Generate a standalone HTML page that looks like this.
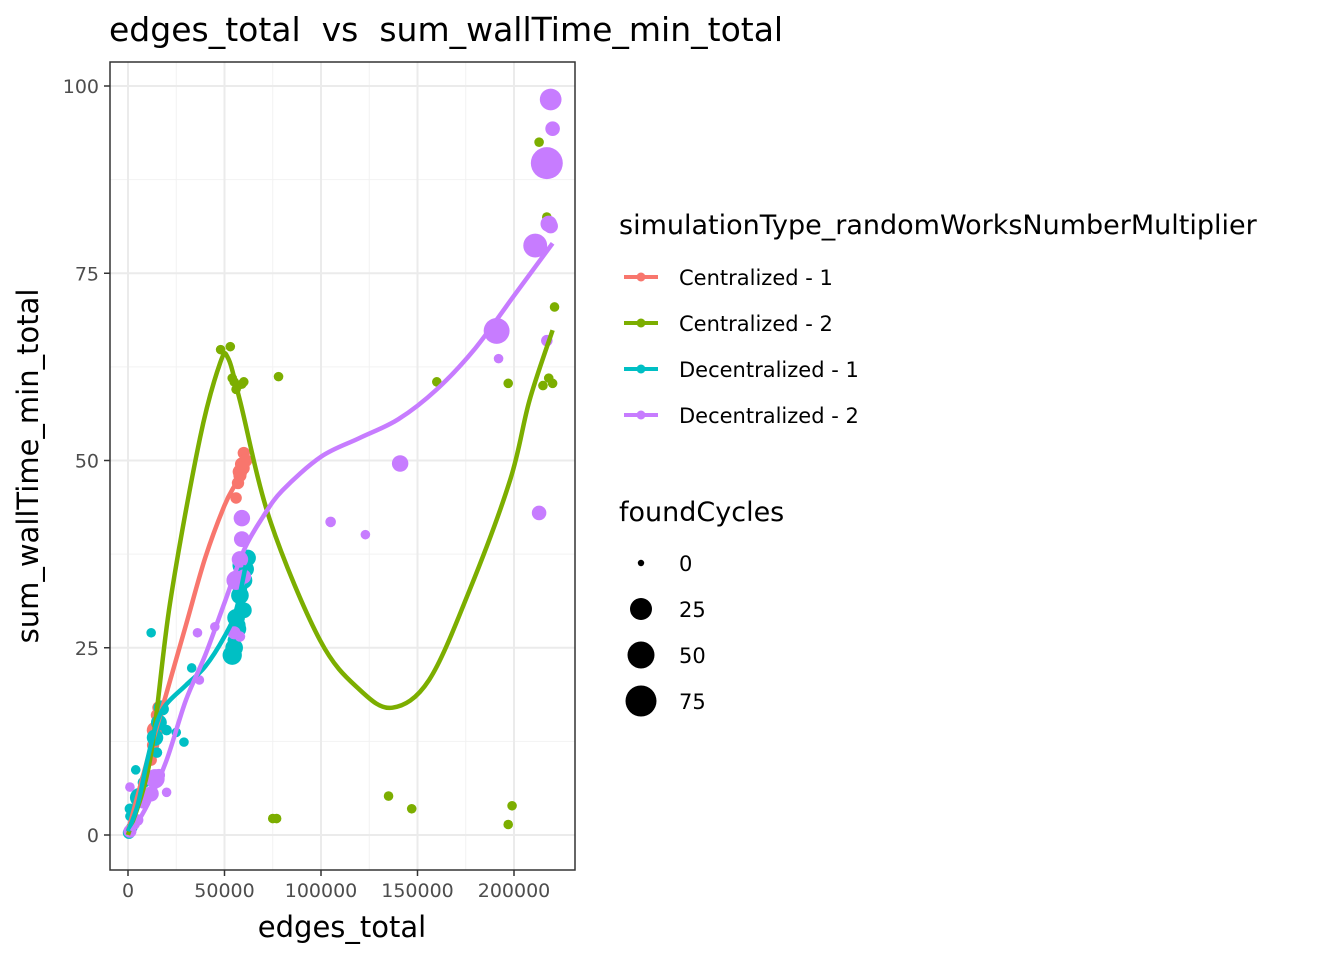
<!DOCTYPE html>
<html><head><meta charset="utf-8"><style>
body{margin:0;background:#fff;font-family:"Liberation Sans","DejaVu Sans",sans-serif}
</style></head><body>
<svg id="c" width="1344" height="960" xmlns="http://www.w3.org/2000/svg">
<text x="109" y="41" font-size="33" fill="#000" style="white-space:pre" xml:space="preserve" font-family="DejaVu Sans, Liberation Sans, sans-serif">edges_total  vs  sum_wallTime_min_total</text>
<rect x="110" y="62" width="465" height="808" fill="#fff"/>
<g id="grid"></g><g id="pts"></g><g id="lines"></g>
<rect x="110" y="62" width="465" height="808" fill="none" stroke="#333" stroke-width="1.5"/>
<g id="axes" font-family="DejaVu Sans, Liberation Sans, sans-serif" font-size="19" fill="#4d4d4d"></g>
<text x="342" y="937" text-anchor="middle" font-size="29" font-family="DejaVu Sans, Liberation Sans, sans-serif">edges_total</text>
<text transform="translate(38,466) rotate(-90)" text-anchor="middle" font-size="29" font-family="DejaVu Sans, Liberation Sans, sans-serif">sum_wallTime_min_total</text>
<g id="legend" font-family="DejaVu Sans, Liberation Sans, sans-serif"></g>
</svg>
<script>
const xTicks=[0,50000,100000,150000,200000];
const yTicks=[0,25,50,75,100];
const seriesNames=["Centralized - 1","Centralized - 2","Decentralized - 1","Decentralized - 2"];
const colors=["#F8766D","#7CAE00","#00BFC4","#C77CFF"];
const sizeBreaks=[0,25,50,75];
// smooth curves [x,y]
const smoothC1=[[0,0.5],[10000,10],[20000,19],[30000,28],[40000,37],[50000,44],[56000,47],[60000,49]];
const smoothC2=[[0,0],[11400,10],[21800,31],[37300,53],[47700,63],[51800,63.7],[58000,58],[73600,42],[99500,26],[120000,19.4],[137000,17],[156000,20.7],[177000,32.7],[198000,47.4],[208000,58],[220000,67.4]];
const smoothD1=[[0,0.5],[5000,4],[10000,10],[15000,15],[20000,17.5],[30000,20],[40000,22.5],[50000,26.5],[56000,30],[61000,36]];
const smoothD2=[[2000,0.5],[10000,4],[20000,10],[30000,18],[40000,24],[50000,31],[60000,38],[70000,42.5],[80000,46],[100000,50.5],[120000,53],[140000,55.5],[160000,59.5],[180000,65],[200000,72],[220000,79]];
// points [x,y,foundCycles]
const ptsC1=[[56000,45],[57000,47],[58000,48],[59000,49.5],[60000,51],[61000,50],[58000,48.5],[59500,49],[15000,16],[14000,14],[16000,17],[13000,12],[12000,10],[500,0.5]];
const ptsC2=[[48000,64.8],[53000,65.2],[54000,61],[55000,60.5],[57000,60],[59000,60.2],[56000,59.5],[60000,60.5],[78000,61.2],[75000,2.2],[77000,2.2],[135000,5.2],[147000,3.5],[197000,1.4],[199000,3.9],[160000,60.5],[197000,60.3],[213000,92.5],[217000,82.5],[218000,61],[220000,60.3],[221000,70.5],[215000,60],[10000,8],[15000,13],[18000,17]];
const ptsD1=[[12000,27],[33000,22.3],[25000,13.7],[29000,12.4],[4000,8.7],[8000,7],[10000,7.5],[14000,13],[16000,15],[17000,17],[18000,16.8],[15000,11],[20000,14],[1000,3.5],[1000,2.5],[2000,1],[500,0.3],[6000,5],[54000,24],[55000,25],[57000,27.5],[56000,29],[58000,32],[60000,34],[59000,36],[62000,37],[61000,35.5],[57000,28],[55000,26],[60000,30],[58000,33]];
const ptsD2=[[1000,6.4],[36000,27],[45000,27.8],[105000,41.8],[123000,40.1],[37000,20.7],[8000,4.5],[12000,5.5],[14000,7.5],[16000,8],[20000,5.7],[5000,2],[3000,1.5],[1000,0.5],[56000,34],[59000,42.3],[59000,39.5],[58000,36.8],[60000,34.5],[55000,27],[58000,26.5],[141000,49.6],[191000,67.3],[192000,63.6],[211000,78.7],[213000,43],[217000,89.7],[219000,98.2],[220000,94.3],[218000,81.6],[219000,81.3],[217000,66]];
const sizesC1=[6,8,10,12,8,10,14,12,8,20,10,8,6,4];
const sizesC2=ptsC2.map(()=>2);
const sizesD1=[2,2,2,2,2,6,14,20,18,14,8,4,4,4,2,6,8,30,30,24,20,24,24,22,28,20,20,16,10,18,14];
const sizesD2=[2,2,2,4,2,2,14,16,30,8,2,6,8,10,30,20,18,20,14,10,4,20,60,2,50,14,95,40,14,20,14,6];

const NS="http://www.w3.org/2000/svg";
const X=v=>128+v*386/200000, Y=v=>835-v*7.49;
const R=s=>Math.sqrt(18+s*2.5);
function mk(tag,attrs,parent){const e=document.createElementNS(NS,tag);for(const k in attrs)e.setAttribute(k,attrs[k]);parent.appendChild(e);return e;}
const grid=document.getElementById('grid'),axes=document.getElementById('axes'),lines=document.getElementById('lines'),pts=document.getElementById('pts'),leg=document.getElementById('legend');
for(let i=0;i<xTicks.length-1;i++){const l=mk('line',{x1:X((xTicks[i]+xTicks[i+1])/2),x2:X((xTicks[i]+xTicks[i+1])/2),y1:62,y2:870,stroke:'#f2f2f2','stroke-width':1},grid);

}
for(let i=0;i<yTicks.length-1;i++){const l=mk('line',{y1:Y((yTicks[i]+yTicks[i+1])/2),y2:Y((yTicks[i]+yTicks[i+1])/2),x1:110,x2:575,stroke:'#f2f2f2','stroke-width':1},grid);

}
xTicks.forEach(t=>{const l=mk('line',{x1:X(t),x2:X(t),y1:62,y2:870,stroke:'#ebebeb','stroke-width':2},grid);


const k=mk('line',{x1:X(t),x2:X(t),y1:870,y2:876,stroke:'#333','stroke-width':1.5},axes);


const tx=mk('text',{x:X(t),y:897,'text-anchor':'middle'},axes);tx.textContent=t;

});
yTicks.forEach(t=>{const l=mk('line',{y1:Y(t),y2:Y(t),x1:110,x2:575,stroke:'#ebebeb','stroke-width':2},grid);


const k=mk('line',{y1:Y(t),y2:Y(t),x1:104,x2:110,stroke:'#333','stroke-width':1.5},axes);


const tx=mk('text',{x:99,y:Y(t)+7,'text-anchor':'end'},axes);tx.textContent=t;

});
const allPts=[ptsC1,ptsC2,ptsD1,ptsD2],allSizes=[sizesC1,sizesC2,sizesD1,sizesD2],allSmooth=[smoothC1,smoothC2,smoothD1,smoothD2];
function curve(a){let d='M'+X(a[0][0])+','+Y(a[0][1]);for(let i=0;i<a.length-1;i++){const p0=a[Math.max(i-1,0)],p1=a[i],p2=a[i+1],p3=a[Math.min(i+2,a.length-1)];
const c1=[X(p1[0])+(X(p2[0])-X(p0[0]))/6,Y(p1[1])+(Y(p2[1])-Y(p0[1]))/6],c2=[X(p2[0])-(X(p3[0])-X(p1[0]))/6,Y(p2[1])-(Y(p3[1])-Y(p1[1]))/6];
d+=`C${c1},${c2},${X(p2[0])},${Y(p2[1])}`;}return d;}
allPts.forEach((ps,s)=>{ps.forEach((p,i)=>{const c=mk('circle',{cx:X(p[0]),cy:Y(p[1]),r:R(allSizes[s][i]),fill:colors[s]},pts);

});});
allSmooth.forEach((a,s)=>{const p=mk('path',{d:curve(a),fill:'none',stroke:colors[s],'stroke-width':4.5},lines);

});
const lt=mk('text',{x:619,y:234,'font-size':27},leg);lt.textContent='simulationType_randomWorksNumberMultiplier';


seriesNames.forEach((n,i)=>{const y=277+i*46;const g=mk('g',{},leg);


mk('line',{x1:624,x2:658,y1:y,y2:y,stroke:colors[i],'stroke-width':4},g);
mk('circle',{cx:641,cy:y,r:4.5,fill:colors[i]},g);
const t=mk('text',{x:679,y:y+8,'font-size':21},g);t.textContent=n;});
const st=mk('text',{x:619,y:521,'font-size':27},leg);st.textContent='foundCycles';


sizeBreaks.forEach((b,i)=>{const y=563+i*46;const g=mk('g',{},leg);


mk('circle',{cx:641,cy:y,r:[3.2,11,13.5,15.5][i],fill:'#000'},g);
const t=mk('text',{x:679,y:y+8,'font-size':21},g);t.textContent=b;});
</script>
</body></html>
